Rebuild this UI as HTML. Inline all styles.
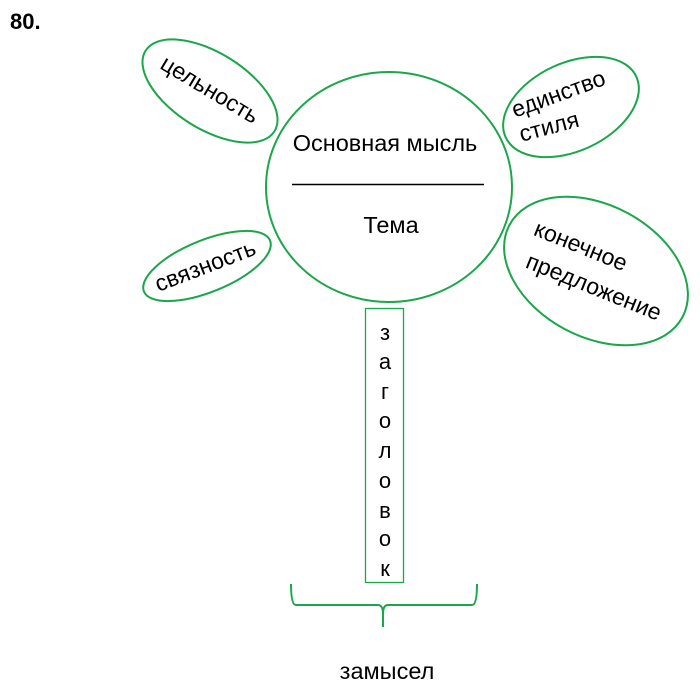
<!DOCTYPE html>
<html><head><meta charset="utf-8"><style>html,body{margin:0;padding:0;background:#fff;}svg{display:block}</style></head>
<body>
<svg width="700" height="694" viewBox="0 0 700 694" xmlns="http://www.w3.org/2000/svg" font-family="Liberation Sans, DejaVu Sans, sans-serif">
<text x="10" y="29" font-size="22" font-weight="bold">80.</text>
<g fill="none" stroke="#1aa64a" stroke-width="2">
<ellipse cx="389" cy="187" rx="123" ry="115"/>
<ellipse cx="0" cy="0" rx="76" ry="38" transform="translate(210,91) rotate(32)"/>
<ellipse cx="0" cy="0" rx="68" ry="26" transform="translate(207,266) rotate(-22)"/>
<ellipse cx="0" cy="0" rx="72" ry="44" transform="translate(571,107) rotate(-25)"/>
<ellipse cx="0" cy="0" rx="98" ry="66" transform="translate(596,271) rotate(28)"/>
<rect x="365.5" y="308.5" width="38" height="274" stroke-width="1.3"/>
<path d="M291 584 Q291 605 296 605 L378 605 Q383 605 383 614 L383 627 M383 614 Q383 605 388 605 L472 605 Q477 605 477 584"/>
</g>
<line x1="292" y1="184.5" x2="484" y2="184.5" stroke="#000" stroke-width="1.6"/>
<g font-size="23.5" fill="#000" text-anchor="middle">
<text x="385" y="151">Основная мысль</text>
<text x="391" y="233">Тема</text>
<text x="387" y="679">замысел</text>
</g>
<g font-size="23" fill="#000" text-anchor="middle">
<text transform="translate(206,96) rotate(31)">цельность</text>
<text transform="translate(208,273) rotate(-21)">связность</text>
<text transform="translate(561,101) rotate(-20)">единство</text>
<text transform="translate(551,134) rotate(-15)">стиля</text>
<text transform="translate(578,253) rotate(22)">конечное</text>
<text transform="translate(591,294) rotate(22)">предложение</text>
</g>
<g font-size="22" fill="#000" text-anchor="middle">
<text x="385" y="340">з</text>
<text x="385" y="369">а</text>
<text x="385" y="399">г</text>
<text x="385" y="428">о</text>
<text x="385" y="458">л</text>
<text x="385" y="488">о</text>
<text x="385" y="518">в</text>
<text x="385" y="546">о</text>
<text x="385" y="576">к</text>
</g>
</svg>
</body></html>
